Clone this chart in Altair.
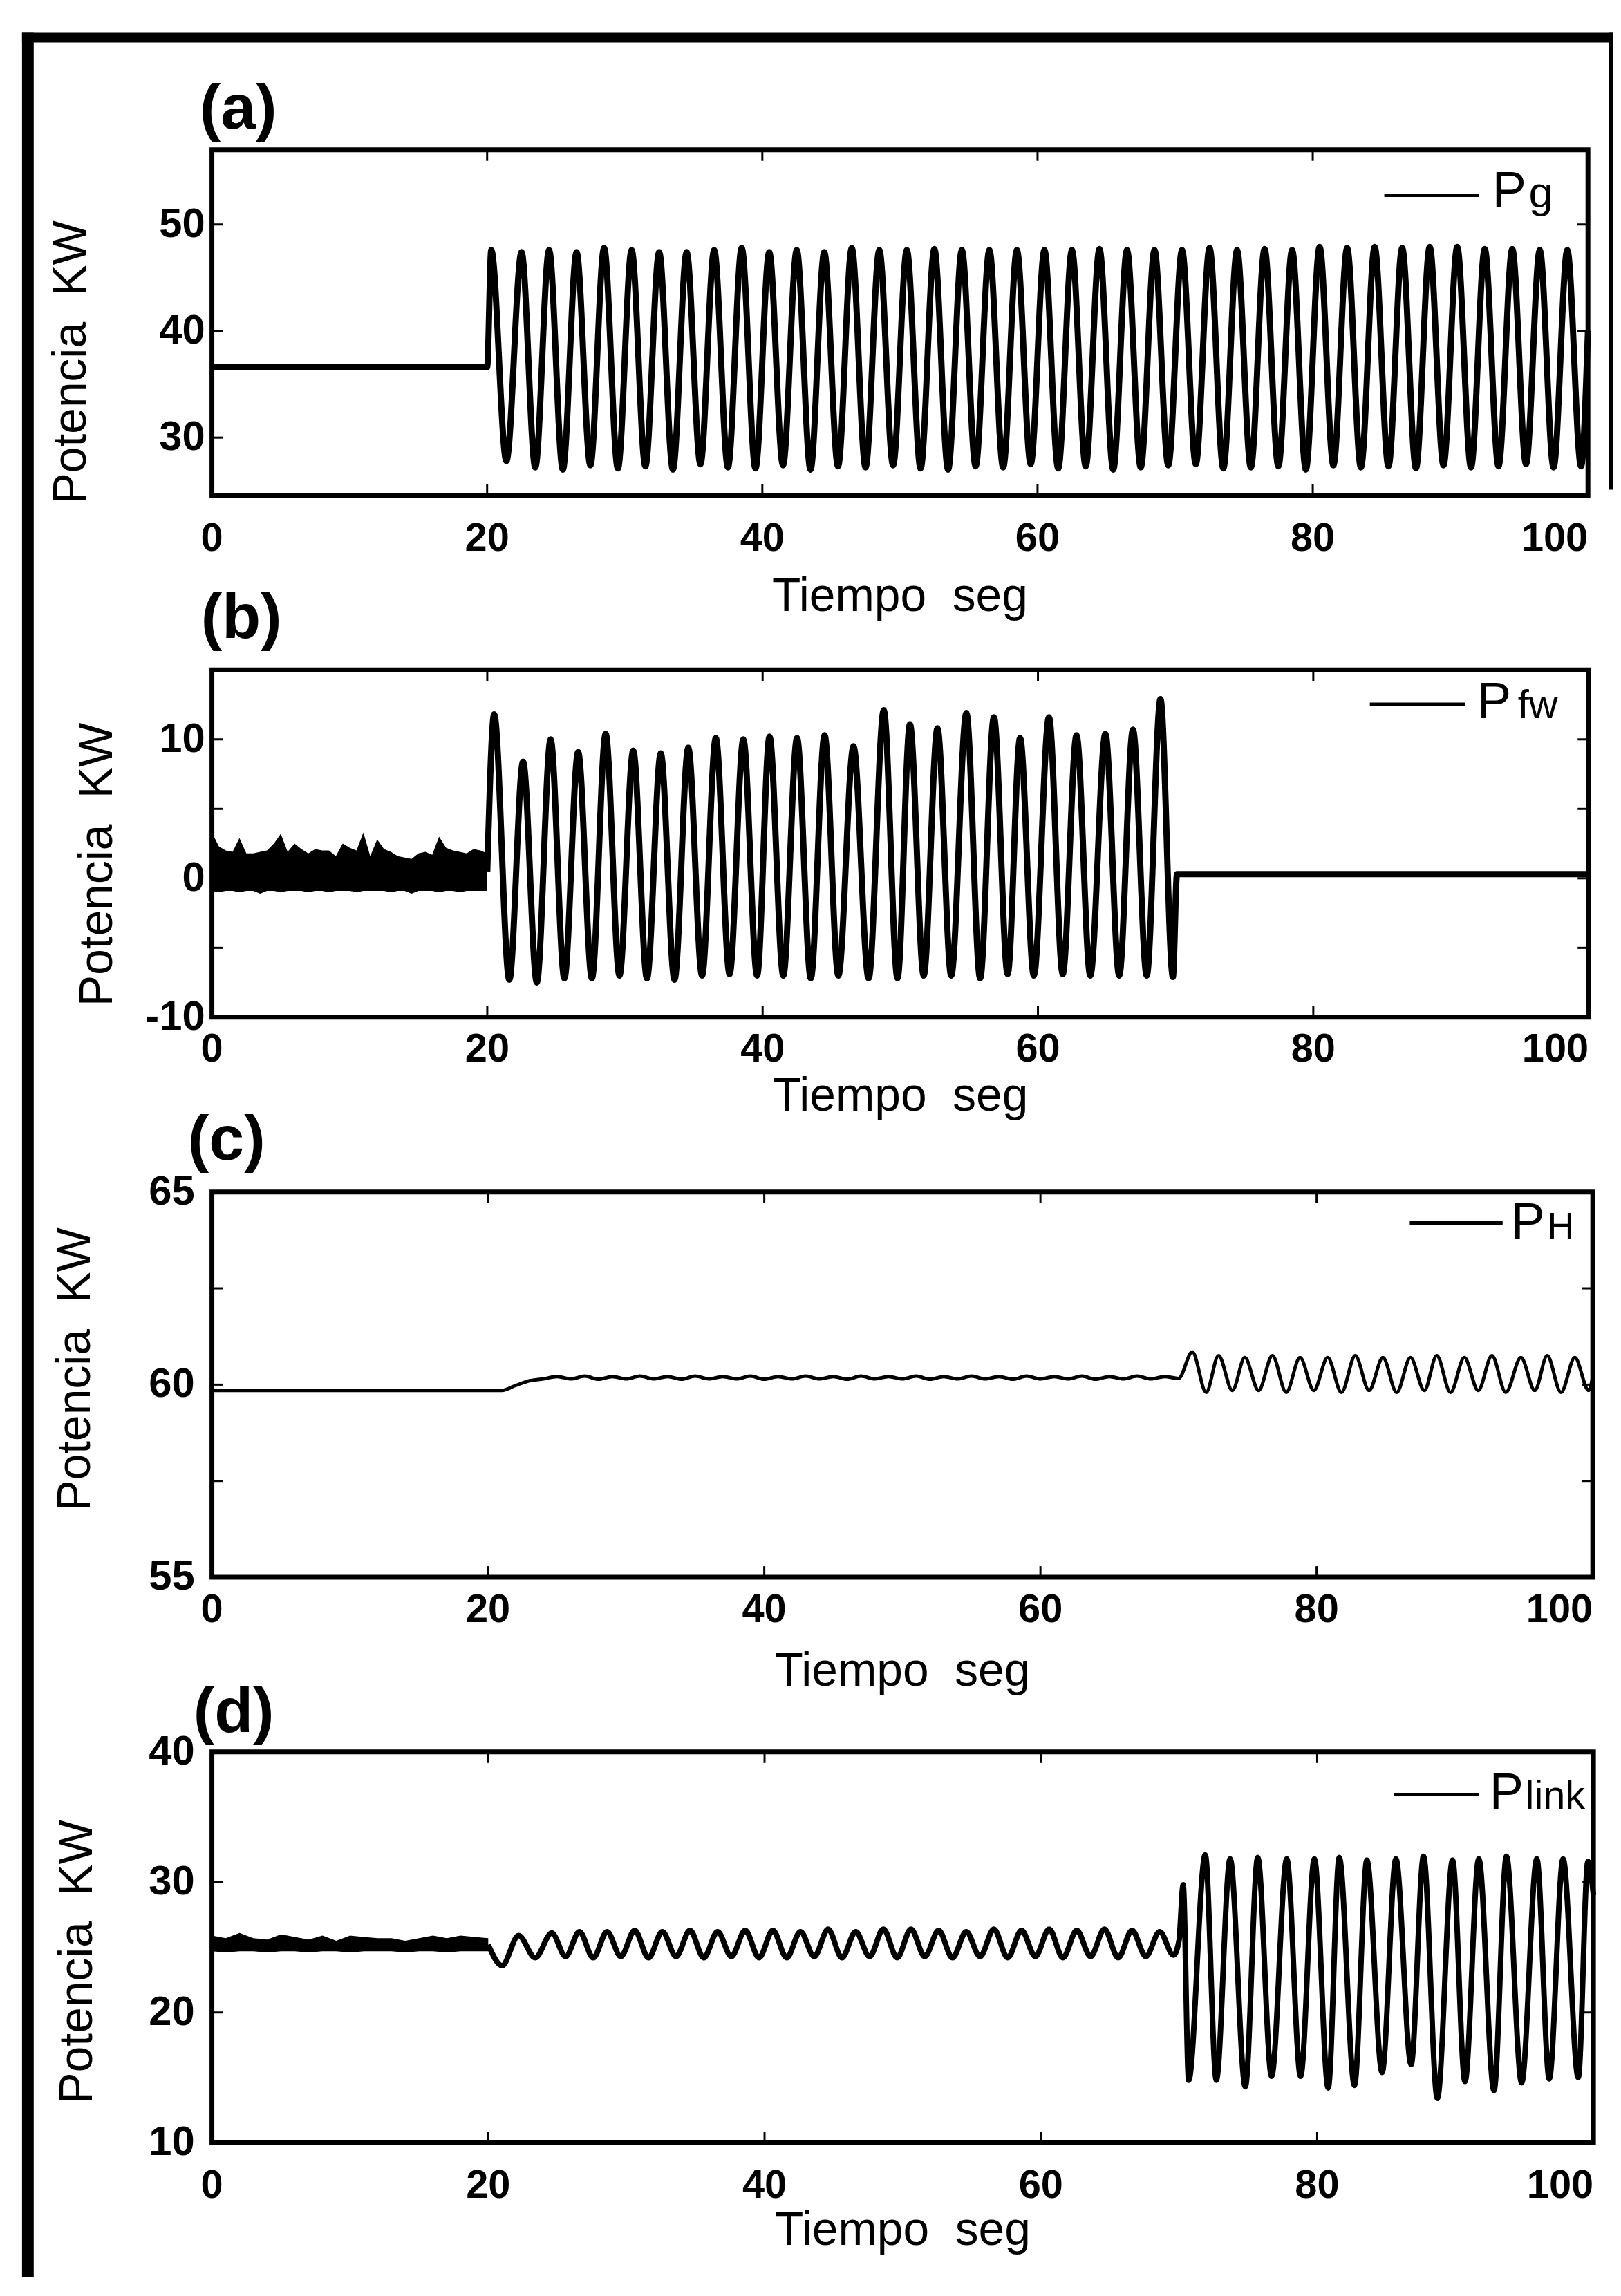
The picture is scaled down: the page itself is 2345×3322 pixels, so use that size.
import altair as alt
import pandas as pd

# ---------------- values ----------------
X_TICKS = [0, 20, 40, 60, 80]
X_LAST_TICK = [100]
X_INNER_TICKS = [20, 40, 60, 80]

# (a) P_g
A_FLAT_T = [0, 20]
A_FLAT_V = [36.6, 36.6]
A_PEAK_T = [20.3, 22.5, 24.5, 26.5, 28.5, 30.5, 32.5, 34.5, 36.5, 38.5, 40.5, 42.5, 44.5, 46.5,
            48.5, 50.5, 52.5, 54.5, 56.5, 58.5, 60.5, 62.5, 64.5, 66.5, 68.5, 70.5, 72.5, 74.5,
            76.5, 78.5, 80.5, 82.5, 84.5, 86.5, 88.5, 90.5, 92.5, 94.5, 96.5, 98.5]
A_PEAK_V = [47.6, 47.4, 47.6, 47.4, 47.8, 47.6, 47.4, 47.4, 47.6, 47.8, 47.4, 47.6, 47.4, 47.8,
            47.6, 47.6, 47.7, 47.6, 47.6, 47.6, 47.6, 47.6, 47.7, 47.6, 47.6, 47.6, 47.8, 47.6,
            47.7, 47.6, 47.9, 47.8, 47.9, 47.8, 47.9, 47.9, 47.7, 47.7, 47.6, 47.6]
A_TROUGH_T = [21.4, 23.5, 25.5, 27.5, 29.5, 31.5, 33.5, 35.5, 37.5, 39.5, 41.5, 43.5, 45.5, 47.5,
              49.5, 51.5, 53.5, 55.5, 57.5, 59.5, 61.5, 63.5, 65.5, 67.5, 69.5, 71.5, 73.5, 75.5,
              77.5, 79.5, 81.5, 83.5, 85.5, 87.5, 89.5, 91.5, 93.5, 95.5, 97.5, 99.5]
A_TROUGH_V = [27.8, 27.2, 27.0, 27.4, 27.1, 27.3, 27.0, 27.5, 27.2, 27.1, 27.4, 27.0, 27.3, 27.2,
              27.4, 27.1, 27.0, 27.3, 27.2, 27.5, 27.1, 27.3, 27.0, 27.2, 27.4, 27.5, 27.1, 27.2,
              27.3, 27.0, 27.4, 27.2, 27.3, 27.1, 27.4, 27.2, 27.3, 27.5, 27.2, 27.3]
A_END_T = [100]
A_END_V = [40.0]

# (b) P_fw
B_NOISE_T = [0, 0.5, 1, 1.5, 2, 2.5, 3, 3.5, 4, 4.5, 5, 5.5, 6, 6.5, 7, 7.5, 8, 8.5, 9, 9.5, 10,
             10.5, 11, 11.5, 12, 12.5, 13, 13.5, 14, 14.5, 15, 15.5, 16, 16.5, 17, 17.5, 18, 18.5,
             19, 19.5, 20]
B_NOISE_HI = [3.3, 2.3, 2.0, 1.9, 2.9, 1.8, 1.8, 1.9, 2.0, 2.5, 3.2, 1.9, 2.5, 2.1, 1.8, 2.1, 2.0,
              2.0, 1.6, 2.5, 2.2, 2.0, 3.3, 1.6, 2.8, 2.1, 1.9, 1.6, 1.5, 1.4, 1.8, 1.9, 1.7, 3.0,
              2.2, 2.0, 1.9, 1.8, 2.1, 2.0, 1.8]
B_NOISE_LO = [-0.9, -1.0, -0.9, -0.9, -1.0, -0.9, -0.9, -1.1, -0.9, -0.9, -1.0, -0.9, -0.9, -0.9,
              -1.0, -0.9, -0.9, -1.0, -0.9, -0.9, -0.9, -1.0, -0.9, -0.9, -0.9, -0.9, -1.0, -0.9,
              -0.9, -1.1, -0.9, -0.9, -0.9, -1.0, -0.9, -0.9, -1.0, -0.9, -0.9, -0.9, -0.9]
B_START_T = [20]
B_START_V = [0.5]
B_PEAK_T = [20.5, 22.6, 24.6, 26.6, 28.6, 30.6, 32.6, 34.6, 36.6, 38.6, 40.5, 42.5, 44.5, 46.6,
            48.8, 50.7, 52.7, 54.8, 56.8, 58.7, 60.8, 62.8, 64.9, 66.9, 68.9]
B_PEAK_V = [11.8, 8.4, 10.0, 9.1, 10.4, 9.2, 9.0, 9.4, 10.1, 10.0, 10.2, 10.1, 10.3, 9.5,
            12.1, 11.1, 10.8, 11.9, 11.6, 10.1, 11.6, 10.3, 10.4, 10.7, 12.9]
B_TROUGH_T = [21.6, 23.6, 25.6, 27.6, 29.6, 31.6, 33.6, 35.6, 37.6, 39.6, 41.5, 43.5, 45.5, 47.7,
              49.8, 51.7, 53.7, 55.8, 57.8, 59.7, 61.8, 63.8, 65.9, 67.9, 69.8]
B_TROUGH_V = [-7.3, -7.5, -7.2, -7.2, -7.0, -7.2, -7.3, -7.0, -6.9, -7.0, -7.0, -7.2, -7.0, -7.2,
              -7.2, -7.0, -7.0, -7.2, -6.9, -7.0, -6.9, -7.0, -7.0, -7.0, -7.1]
B_TAIL_T = [70.1, 100]
B_TAIL_V = [0.3, 0.3]

# (c) P_H
C_HEAD_T = [0, 21, 22, 23, 24]
C_HEAD_V = [59.85, 59.85, 59.98, 60.1, 60.15]
C_RIP_T = [25, 26, 27, 28, 29, 30, 31, 32, 33, 34, 35, 36, 37, 38, 39, 40, 41, 42, 43, 44, 45, 46,
           47, 48, 49, 50, 51, 52, 53, 54, 55, 56, 57, 58, 59, 60, 61, 62, 63, 64, 65, 66, 67, 68,
           69, 70]
C_RIP_V = [60.21, 60.15, 60.22, 60.14, 60.21, 60.15, 60.22, 60.15, 60.21, 60.14, 60.22, 60.15,
           60.21, 60.15, 60.22, 60.14, 60.21, 60.15, 60.22, 60.15, 60.21, 60.14, 60.22, 60.15,
           60.21, 60.15, 60.22, 60.14, 60.21, 60.15, 60.22, 60.15, 60.21, 60.14, 60.22, 60.15,
           60.21, 60.15, 60.22, 60.14, 60.21, 60.15, 60.22, 60.15, 60.21, 60.16]
C_PEAK_T = [71.0, 72.9, 74.8, 76.8, 78.8, 80.8, 82.8, 84.8, 86.8, 88.7, 90.7, 92.7, 94.8, 96.7, 98.7]
C_PEAK_V = [60.85, 60.75, 60.7, 60.75, 60.7, 60.7, 60.75, 60.7, 60.7, 60.75, 60.7, 60.75, 60.7,
            60.75, 60.7]
C_TROUGH_T = [72.0, 73.9, 75.8, 77.8, 79.8, 81.8, 83.8, 85.8, 87.8, 89.7, 91.7, 93.7, 95.8, 97.7,
              99.7]
C_TROUGH_V = [59.8, 59.85, 59.85, 59.8, 59.85, 59.8, 59.85, 59.8, 59.85, 59.8, 59.85, 59.8, 59.85,
              59.8, 59.85]
C_END_T = [100]
C_END_V = [60.2]

# (d) P_link
D_NOISE_T = [0, 1, 2, 3, 4, 5, 6, 7, 8, 9, 10, 11, 12, 13, 14, 15, 16, 17, 18, 19, 20]
D_NOISE_HI = [25.9, 25.7, 26.1, 25.7, 25.6, 26.0, 25.8, 25.6, 25.9, 25.5, 25.9, 25.8, 25.7, 25.7,
              25.5, 25.7, 25.9, 25.7, 25.9, 25.8, 25.7]
D_NOISE_LO = [24.7, 24.6, 24.7, 24.7, 24.6, 24.7, 24.7, 24.6, 24.7, 24.7, 24.6, 24.7, 24.7, 24.7,
              24.6, 24.7, 24.7, 24.6, 24.7, 24.7, 24.7]
D_START_T = [20, 21.0]
D_START_V = [25.2, 23.6]
D_RIP_PEAK_T = [22.2, 24.6, 26.6, 28.6, 30.6, 32.6, 34.6, 36.6, 38.6, 40.6, 42.6, 44.6, 46.6, 48.6,
                50.6, 52.6, 54.6, 56.6, 58.6, 60.6, 62.6, 64.6, 66.6, 68.6]
D_RIP_PEAK_V = [25.9, 26.1, 26.2, 26.2, 26.3, 26.2, 26.3, 26.2, 26.3, 26.3, 26.2, 26.4, 26.2, 26.4,
                26.4, 26.3, 26.2, 26.4, 26.3, 26.4, 26.3, 26.4, 26.3, 26.2]
D_RIP_TROUGH_T = [23.4, 25.6, 27.6, 29.6, 31.6, 33.6, 35.6, 37.6, 39.6, 41.6, 43.6, 45.6, 47.6,
                  49.6, 51.6, 53.6, 55.6, 57.6, 59.6, 61.6, 63.6, 65.6, 67.6, 69.6]
D_RIP_TROUGH_V = [24.2, 24.3, 24.2, 24.3, 24.2, 24.3, 24.2, 24.3, 24.2, 24.2, 24.3, 24.2, 24.3,
                  24.2, 24.3, 24.2, 24.3, 24.2, 24.3, 24.2, 24.3, 24.2, 24.3, 24.4]
D_JUMP_T = [70.0, 70.3]
D_JUMP_V = [25.5, 29.8]
D_PEAK_T = [71.9, 73.7, 75.7, 77.8, 79.8, 81.6, 83.6, 85.7, 87.7, 89.8, 91.7, 93.7, 95.9, 97.8, 99.6]
D_PEAK_V = [32.1, 31.8, 31.9, 31.8, 31.8, 31.9, 31.7, 31.8, 32.0, 31.7, 31.8, 32.0, 31.8, 31.8, 31.6]
D_TROUGH_T = [70.7, 72.7, 74.8, 76.7, 78.8, 80.8, 82.7, 84.7, 86.8, 88.7, 90.7, 92.8, 94.8, 96.8,
              98.9]
D_TROUGH_V = [14.8, 14.8, 14.3, 15.1, 15.1, 14.2, 14.4, 15.4, 16.0, 13.4, 14.7, 14.0, 14.6, 14.9,
              15.0]
D_END_T = [100]
D_END_V = [29.0]

# ---------------- helpers ----------------
SANS = "Liberation Sans, Arial, sans-serif"
ONE = alt.Data(values=[{"k": 0}])
XLAB = "Tiempo\u00a0\u00a0seg"
YLAB = "Potencia\u00a0\u00a0KW"
LABEL_SIZE = 58


def series(*pairs):
    rows = []
    for ts, vs in pairs:
        for t, v in zip(ts, vs):
            rows.append({"t": t, "v": v})
    return pd.DataFrame(rows).sort_values("t").reset_index(drop=True)


def band(ts, lo, hi):
    return pd.DataFrame({"t": ts, "lo": lo, "hi": hi})


def fmt(v):
    return str(int(v)) if float(v).is_integer() else str(v)


def txt(x, y, s, size, font=SANS, align="left", baseline="alphabetic", weight="normal", angle=0):
    return alt.Chart(ONE).mark_text(align=align, baseline=baseline, fontSize=size, font=font,
                                    fontWeight=weight, angle=angle, color="black").encode(
        x=alt.value(x), y=alt.value(y), text=alt.value(s))


def panel(p):
    w, h = p["w"], p["h"]
    xs = alt.Scale(domain=[0, 100], nice=False, zero=False)
    ys = alt.Scale(domain=p["ydom"], nice=False, zero=False)
    X = lambda f: alt.X(f, scale=xs, axis=None)
    Y = lambda f: alt.Y(f, scale=ys, axis=None)
    L = []
    L.append(alt.Chart(p["line"]).mark_line(color="black", strokeWidth=p["sw"],
                                            interpolate="monotone")
             .encode(x=X("t:Q"), y=Y("v:Q")))
    if p["band"] is not None:
        L.append(alt.Chart(p["band"]).mark_area(color="black", opacity=1)
                 .encode(x=X("t:Q"), y=Y("lo:Q"), y2="hi:Q"))
    # inner tick marks
    xt = pd.DataFrame({"v": X_INNER_TICKS})
    L.append(alt.Chart(xt).mark_rule(color="black", strokeWidth=3).encode(
        x=X("v:Q"), y=alt.value(h), y2=alt.value(h - 16)))
    L.append(alt.Chart(xt).mark_rule(color="black", strokeWidth=3).encode(
        x=X("v:Q"), y=alt.value(0), y2=alt.value(16)))
    yt = pd.DataFrame({"v": p["yinner"]})
    L.append(alt.Chart(yt).mark_rule(color="black", strokeWidth=3).encode(
        y=Y("v:Q"), x=alt.value(0), x2=alt.value(16)))
    L.append(alt.Chart(yt).mark_rule(color="black", strokeWidth=3).encode(
        y=Y("v:Q"), x=alt.value(w), x2=alt.value(w - 16)))
    # tick labels (through the scales)
    xl = pd.DataFrame({"v": X_TICKS, "s": [fmt(v) for v in X_TICKS]})
    L.append(alt.Chart(xl).mark_text(align="center", baseline="alphabetic", fontSize=LABEL_SIZE,
                                     font=SANS, fontWeight="bold", color="black").encode(
        x=X("v:Q"), y=alt.value(h + p["xlab_dy"]), text="s:N"))
    xl2 = pd.DataFrame({"v": X_LAST_TICK, "s": [fmt(v) for v in X_LAST_TICK]})
    L.append(alt.Chart(xl2).mark_text(align="right", baseline="alphabetic", fontSize=LABEL_SIZE,
                                      font=SANS, fontWeight="bold", color="black").encode(
        x=X("v:Q"), y=alt.value(h + p["xlab_dy"]), text="s:N"))
    yl = pd.DataFrame({"v": p["ylabels"], "s": [fmt(v) for v in p["ylabels"]]})
    L.append(alt.Chart(yl).mark_text(align="right", baseline="middle", fontSize=LABEL_SIZE + 2,
                                     font=SANS, fontWeight="bold", color="black").encode(
        x=alt.value(-p["ylab_pad"]), y=Y("v:Q"), text="s:N"))
    # axis titles
    L.append(txt(w / 2, h + p["xtit_dy"], XLAB, 68, align="center"))
    L.append(txt(p["ytit_x"], p["ytit_y"], YLAB, 68, align="center", angle=270))
    # legend
    lx1, lx2, ly, px, sx, base, sub, subsize = p["leg"]
    L.append(alt.Chart(ONE).mark_rule(color="black", strokeWidth=5).encode(
        x=alt.value(w + lx1), x2=alt.value(w + lx2), y=alt.value(ly)))
    L.append(txt(w + px, base, "P", 74))
    L.append(txt(w + sx, base, sub, subsize))
    # panel tag
    L.append(txt(p["tag_x"], p["tag_y"], p["tag"], 92, weight="bold"))
    return L


PANELS = [
    dict(tag="(a)", tag_x=-18, tag_y=-31, w=2000, h=502, ydom=[24.6, 57.0],
         ylabels=[30, 40, 50], yinner=[30, 40, 50], ylab_pad=10, xlab_dy=81, xtit_dy=168,
         ytit_x=-183, ytit_y=309, sw=9,
         line=series((A_FLAT_T, A_FLAT_V), (A_PEAK_T, A_PEAK_V), (A_TROUGH_T, A_TROUGH_V),
                     (A_END_T, A_END_V)),
         band=None, leg=(-296, -158, 66, -139, -86, 84, "g", 64)),
    dict(tag="(b)", tag_x=-16, tag_y=-46, w=2001, h=505, ydom=[-10, 15],
         ylabels=[-10, 0, 10], yinner=[-5, 0, 5, 10], ylab_pad=10, xlab_dy=64, xtit_dy=136,
         ytit_x=-145, ytit_y=283, sw=9,
         line=series((B_START_T, B_START_V), (B_PEAK_T, B_PEAK_V), (B_TROUGH_T, B_TROUGH_V),
                     (B_TAIL_T, B_TAIL_V)),
         band=band(B_NOISE_T, B_NOISE_LO, B_NOISE_HI),
         leg=(-318, -180, 50, -162, -103, 70, "fw", 58)),
    dict(tag="(c)", tag_x=-35, tag_y=-47, w=2007, h=560, ydom=[55, 65],
         ylabels=[55, 60, 65], yinner=[57.5, 60, 62.5], ylab_pad=25, xlab_dy=65, xtit_dy=158,
         ytit_x=-177, ytit_y=258, sw=5,
         line=series((C_HEAD_T, C_HEAD_V), (C_RIP_T, C_RIP_V), (C_PEAK_T, C_PEAK_V),
                     (C_TROUGH_T, C_TROUGH_V), (C_END_T, C_END_V)),
         band=None, leg=(-266, -131, 45, -119, -66, 68, "H", 54)),
    dict(tag="(d)", tag_x=-27, tag_y=-29, w=2008, h=568, ydom=[10, 40],
         ylabels=[10, 20, 30, 40], yinner=[20, 30], ylab_pad=25, xlab_dy=80, xtit_dy=149,
         ytit_x=-174, ytit_y=305, sw=8,
         line=series((D_START_T, D_START_V), (D_RIP_PEAK_T, D_RIP_PEAK_V),
                     (D_RIP_TROUGH_T, D_RIP_TROUGH_V), (D_JUMP_T, D_JUMP_V),
                     (D_PEAK_T, D_PEAK_V), (D_TROUGH_T, D_TROUGH_V), (D_END_T, D_END_V)),
         band=band(D_NOISE_T, D_NOISE_LO, D_NOISE_HI),
         leg=(-290, -166, 62, -151, -99, 83, "link", 58)),
]

charts = []
for i, p in enumerate(PANELS):
    layers = panel(p)
    if i == 0:
        # outer black frame of the whole figure (filled rects: exact bounds)
        layers.append(alt.Chart(ONE).mark_rect(color="black").encode(
            x=alt.value(-276), x2=alt.value(-259), y=alt.value(-170), y2=alt.value(3092)))
        layers.append(alt.Chart(ONE).mark_rect(color="black").encode(
            x=alt.value(-276), x2=alt.value(2036), y=alt.value(-170), y2=alt.value(-156)))
        layers.append(alt.Chart(ONE).mark_rect(color="black").encode(
            x=alt.value(2030), x2=alt.value(2036), y=alt.value(-170), y2=alt.value(494)))
    charts.append(alt.layer(*layers).properties(width=p["w"], height=p["h"]))

chart = (
    alt.vconcat(*charts, spacing=254, bounds="flush")
    .properties(padding={"left": 20, "top": 28, "right": 0, "bottom": 0}, background="white")
    .configure_view(stroke="black", strokeWidth=7)
)

chart.save("out.html", embed_options={"renderer": "svg", "actions": False})
